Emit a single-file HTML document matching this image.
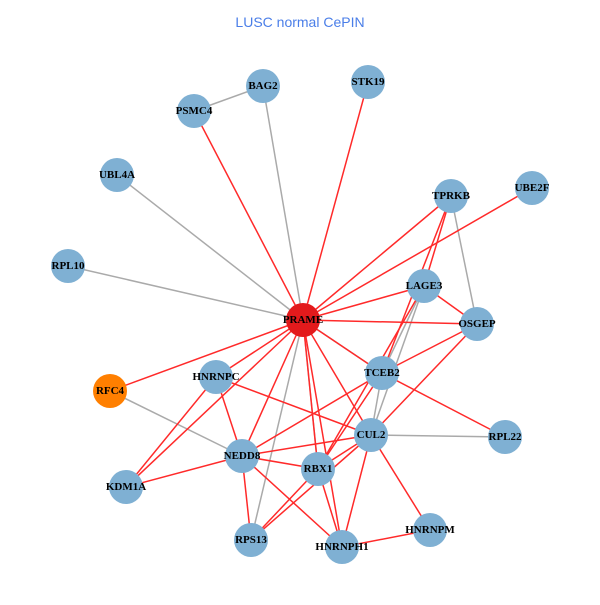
<!DOCTYPE html>
<html><head><meta charset="utf-8"><style>
body{margin:0;background:#fff}
svg text{font-family:"Liberation Serif",serif;font-weight:bold;font-size:11px;text-anchor:middle;dominant-baseline:central}
</style></head><body>
<svg width="600" height="600" xmlns="http://www.w3.org/2000/svg">
<rect width="600" height="600" fill="#fff"/>
<text x="300" y="22" style="font-family:'Liberation Sans',sans-serif;font-weight:normal;font-size:14px;fill:#4a7ee8">LUSC normal CePIN</text>
<g stroke="#aaaaaa" stroke-width="1.5">
<line x1="303" y1="320" x2="263" y2="86"/>
<line x1="303" y1="320" x2="117" y2="175"/>
<line x1="303" y1="320" x2="68" y2="266"/>
<line x1="303" y1="320" x2="251" y2="540"/>
<line x1="303" y1="320" x2="382" y2="373"/>
<line x1="303" y1="320" x2="318" y2="469"/>
<line x1="263" y1="86" x2="194" y2="111"/>
<line x1="451" y1="196" x2="477" y2="324"/>
<line x1="424" y1="286" x2="382" y2="373"/>
<line x1="424" y1="286" x2="371" y2="435"/>
<line x1="382" y1="373" x2="371" y2="435"/>
<line x1="371" y1="435" x2="505" y2="437"/>
<line x1="110" y1="391" x2="242" y2="456"/>
</g>
<g stroke="#ff2a2a" stroke-width="1.5">
<line x1="303" y1="320" x2="194" y2="111"/>
<line x1="303" y1="320" x2="368" y2="82"/>
<line x1="303" y1="320" x2="451" y2="196"/>
<line x1="303" y1="320" x2="532" y2="188"/>
<line x1="303" y1="320" x2="424" y2="286"/>
<line x1="303" y1="320" x2="477" y2="324"/>
<line x1="303" y1="320" x2="382" y2="373"/>
<line x1="303" y1="320" x2="216" y2="377"/>
<line x1="303" y1="320" x2="110" y2="391"/>
<line x1="303" y1="320" x2="126" y2="487"/>
<line x1="303" y1="320" x2="242" y2="456"/>
<line x1="303" y1="320" x2="318" y2="469"/>
<line x1="303" y1="320" x2="371" y2="435"/>
<line x1="303" y1="320" x2="342" y2="547"/>
<line x1="451" y1="196" x2="424" y2="286"/>
<line x1="451" y1="196" x2="382" y2="373"/>
<line x1="424" y1="286" x2="477" y2="324"/>
<line x1="424" y1="286" x2="318" y2="469"/>
<line x1="477" y1="324" x2="382" y2="373"/>
<line x1="477" y1="324" x2="371" y2="435"/>
<line x1="382" y1="373" x2="505" y2="437"/>
<line x1="382" y1="373" x2="242" y2="456"/>
<line x1="382" y1="373" x2="318" y2="469"/>
<line x1="216" y1="377" x2="371" y2="435"/>
<line x1="216" y1="377" x2="242" y2="456"/>
<line x1="216" y1="377" x2="126" y2="487"/>
<line x1="371" y1="435" x2="242" y2="456"/>
<line x1="371" y1="435" x2="318" y2="469"/>
<line x1="371" y1="435" x2="342" y2="547"/>
<line x1="371" y1="435" x2="430" y2="530"/>
<line x1="371" y1="435" x2="251" y2="540"/>
<line x1="242" y1="456" x2="318" y2="469"/>
<line x1="242" y1="456" x2="126" y2="487"/>
<line x1="242" y1="456" x2="251" y2="540"/>
<line x1="242" y1="456" x2="342" y2="547"/>
<line x1="318" y1="469" x2="342" y2="547"/>
<line x1="318" y1="469" x2="251" y2="540"/>
<line x1="342" y1="547" x2="430" y2="530"/>
</g>
<g fill="#7fb0d3">
<circle cx="263" cy="86" r="17"/><circle cx="368" cy="82" r="17"/><circle cx="194" cy="111" r="17"/>
<circle cx="117" cy="175" r="17"/><circle cx="451" cy="196" r="17"/><circle cx="532" cy="188" r="17"/>
<circle cx="68" cy="266" r="17"/><circle cx="424" cy="286" r="17"/><circle cx="477" cy="324" r="17"/>
<circle cx="216" cy="377" r="17"/><circle cx="382" cy="373" r="17"/><circle cx="371" cy="435" r="17"/>
<circle cx="505" cy="437" r="17"/><circle cx="242" cy="456" r="17"/><circle cx="318" cy="469" r="17"/>
<circle cx="126" cy="487" r="17"/><circle cx="251" cy="540" r="17"/><circle cx="430" cy="530" r="17"/>
<circle cx="342" cy="547" r="17"/>
</g>
<circle cx="303" cy="320" r="17" fill="#e31a1c"/>
<circle cx="110" cy="391" r="17" fill="#ff7f00"/>
<g fill="#000">
<text x="263" y="86">BAG2</text><text x="368" y="82">STK19</text><text x="194" y="111">PSMC4</text>
<text x="117" y="175">UBL4A</text><text x="451" y="196">TPRKB</text><text x="532" y="188">UBE2F</text>
<text x="68" y="266">RPL10</text><text x="424" y="286">LAGE3</text><text x="477" y="324">OSGEP</text>
<text x="303" y="320">PRAME</text><text x="216" y="377">HNRNPC</text><text x="382" y="373">TCEB2</text>
<text x="110" y="391">RFC4</text><text x="371" y="435">CUL2</text><text x="505" y="437">RPL22</text>
<text x="242" y="456">NEDD8</text><text x="318" y="469">RBX1</text><text x="126" y="487">KDM1A</text>
<text x="251" y="540">RPS13</text><text x="430" y="530">HNRNPM</text><text x="342" y="547">HNRNPH1</text>
</g>
</svg>
</body></html>
